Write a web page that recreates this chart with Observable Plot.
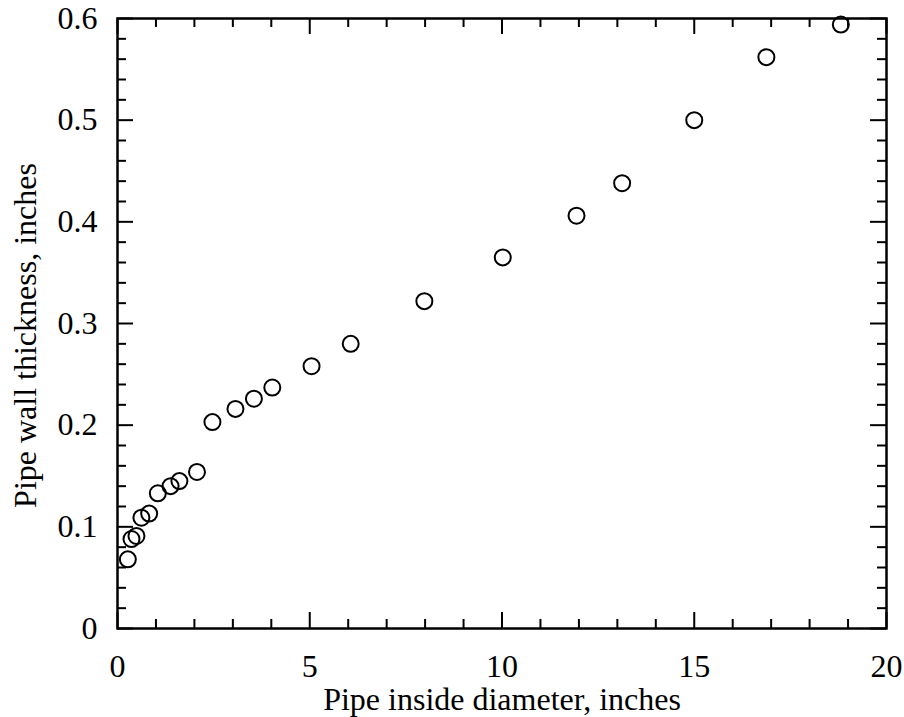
<!DOCTYPE html>
<html>
<head>
<meta charset="utf-8">
<script src="https://cdn.jsdelivr.net/npm/d3@7"></script>
<script src="https://cdn.jsdelivr.net/npm/@observablehq/plot@0.6"></script>
<style>
  html, body { margin: 0; padding: 0; background: #fff; }
  svg { display: block; }
</style>
</head>
<body>
<div id="chart"></div>
<script>
// Data: pipe inside diameter (in) vs wall thickness (in)
const insideDiameter = [0.269, 0.364, 0.493, 0.622, 0.824, 1.049, 1.380, 1.610, 2.067, 2.469, 3.068, 3.548, 4.026, 5.047, 6.065, 7.981, 10.020, 11.938, 13.124, 15.000, 16.876, 18.812];
const wallThickness  = [0.068, 0.088, 0.091, 0.109, 0.113, 0.133, 0.140, 0.145, 0.154, 0.203, 0.216, 0.226, 0.237, 0.258, 0.280, 0.322, 0.365, 0.406, 0.438, 0.500, 0.562, 0.594];

const xMajorTicks = [0, 5, 10, 15, 20];
const xMinorTicks = [1, 2, 3, 4, 6, 7, 8, 9, 11, 12, 13, 14, 16, 17, 18, 19];
const yMajorTicks = [0, 0.1, 0.2, 0.3, 0.4, 0.5, 0.6];
const yMinorTicks = [0.02, 0.04, 0.06, 0.08, 0.12, 0.14, 0.16, 0.18, 0.22, 0.24, 0.26, 0.28, 0.32, 0.34, 0.36, 0.38, 0.42, 0.44, 0.46, 0.48, 0.52, 0.54, 0.56, 0.58];

const xLabel = "Pipe inside diameter, inches";
const yLabel = "Pipe wall thickness, inches";

const points = insideDiameter.map((d, i) => ({x: d, y: wallThickness[i]}));

const W = 904, H = 717;
const mL = 117, mR = 18, mT = 18, mB = 89;
const innerH = H - mT - mB;
const innerW = W - mL - mR;
const major = 16, minor = 9;
const font = "Liberation Serif, Times New Roman, serif";
const fs = 32;

const tickStyle = {stroke: "#000", strokeWidth: 2};

const chart = Plot.plot({
  width: W,
  height: H,
  marginLeft: mL,
  marginRight: mR,
  marginTop: mT,
  marginBottom: mB,
  style: {fontFamily: font, fontSize: fs + "px", background: "#fff", color: "#000"},
  x: {domain: [0, 20]},
  y: {domain: [0, 0.6]},
  marks: [
    // inward ticks on all four sides
    Plot.tickX(xMajorTicks, {x: d => d, insetTop: innerH - major, ...tickStyle}),
    Plot.tickX(xMinorTicks, {x: d => d, insetTop: innerH - minor, ...tickStyle}),
    Plot.tickX(xMajorTicks, {x: d => d, insetBottom: innerH - major, ...tickStyle}),
    Plot.tickX(xMinorTicks, {x: d => d, insetBottom: innerH - minor, ...tickStyle}),
    Plot.tickY(yMajorTicks, {y: d => d, insetRight: innerW - major, ...tickStyle}),
    Plot.tickY(yMinorTicks, {y: d => d, insetRight: innerW - minor, ...tickStyle}),
    Plot.tickY(yMajorTicks, {y: d => d, insetLeft: innerW - major, ...tickStyle}),
    Plot.tickY(yMinorTicks, {y: d => d, insetLeft: innerW - minor, ...tickStyle}),
    Plot.frame({stroke: "#000", strokeWidth: 2.5}),
    Plot.axisX({ticks: xMajorTicks, tickSize: 0, tickPadding: 26, label: null, fontSize: fs, tickFormat: d => String(d)}),
    Plot.axisY({ticks: yMajorTicks, tickSize: 0, tickPadding: 20, label: null, fontSize: fs, tickFormat: d => String(+d.toFixed(1))}),
    Plot.dot(points, {x: "x", y: "y", r: 8, stroke: "#000", strokeWidth: 2, fill: "none"}),
    Plot.text([xLabel], {text: d => d, frameAnchor: "bottom", dy: 81, textAnchor: "middle", lineAnchor: "bottom", fontSize: fs, fill: "#000"}),
    Plot.text([yLabel], {text: d => d, frameAnchor: "left", dx: -82, dy: 12, rotate: -90, textAnchor: "middle", lineAnchor: "bottom", fontSize: fs, fill: "#000"})
  ]
});
document.getElementById("chart").appendChild(chart);
</script>
</body>
</html>
